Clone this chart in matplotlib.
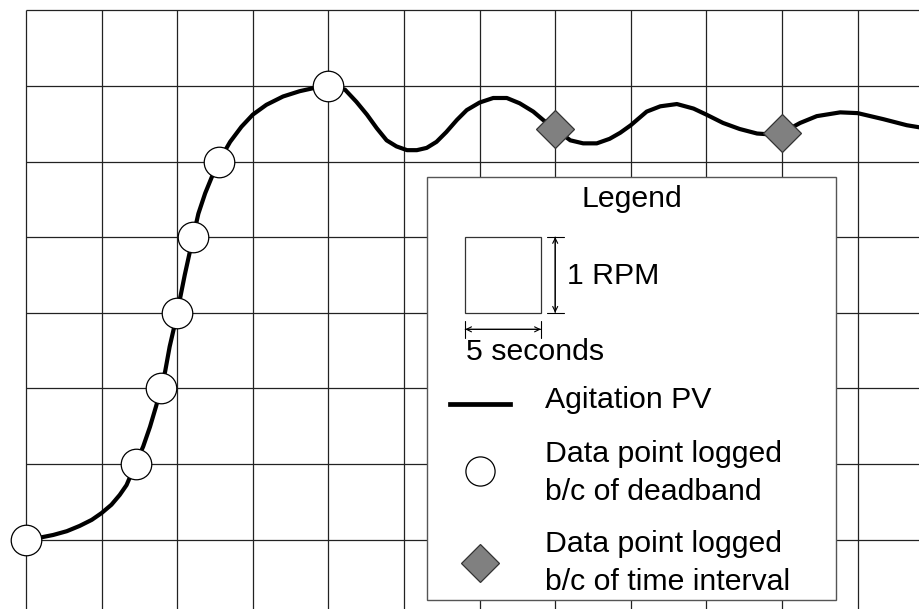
import matplotlib
matplotlib.use("Agg")
import matplotlib.pyplot as plt
from matplotlib.patches import Rectangle

plt.rcParams["font.family"] = ["Liberation Sans", "DejaVu Sans"]

# Agitation PV trace (x: 5 s per grid cell, y: 1 RPM per cell)
pv_x = [0, 0.21, 0.36, 0.54, 0.71, 0.87, 1.0, 1.13, 1.24, 1.33, 1.45, 1.55,
        1.64, 1.72, 1.786, 1.84, 1.90, 1.96, 2.0, 2.10, 2.21, 2.28, 2.37,
        2.46, 2.55, 2.70, 2.85, 3.0, 3.18, 3.40, 3.62, 3.80, 4.0, 4.22, 4.37,
        4.51, 4.64, 4.77, 4.90, 5.04, 5.17, 5.30, 5.43, 5.56, 5.70, 5.83, 6.0,
        6.18, 6.36, 6.53, 6.71, 6.84, 7.0, 7.20, 7.37, 7.55, 7.72, 7.86, 8.0,
        8.21, 8.39, 8.61, 8.83, 9.0, 9.22, 9.44, 9.67, 9.82, 10.0, 10.24,
        10.46, 10.77, 11.0, 11.34, 11.65, 11.83]
pv_y = [0, 0.03, 0.06, 0.11, 0.18, 0.26, 0.35, 0.46, 0.59, 0.72, 1.0, 1.23,
        1.49, 1.76, 2.0, 2.22, 2.55, 2.81, 3.0, 3.50, 4.0, 4.31, 4.58, 4.80,
        5.0, 5.26, 5.46, 5.62, 5.75, 5.86, 5.93, 5.97, 6.0, 5.95, 5.79, 5.62,
        5.44, 5.28, 5.20, 5.15, 5.15, 5.18, 5.26, 5.39, 5.55, 5.68, 5.78,
        5.84, 5.84, 5.77, 5.66, 5.55, 5.43, 5.28, 5.24, 5.24, 5.30, 5.38,
        5.48, 5.66, 5.73, 5.76, 5.70, 5.62, 5.51, 5.43, 5.37, 5.36, 5.38,
        5.51, 5.60, 5.65, 5.64, 5.56, 5.48, 5.45]

# points logged because of deadband
dead_x = [0, 1.45, 1.786, 2.0, 2.21, 2.55, 4.0]
dead_y = [0, 1, 2, 3, 4, 5, 6]

# points logged because of time interval
time_x = [7.0, 10.0]
time_y = [5.43, 5.38]

grid_x = list(range(0, 12))
grid_y = list(range(0, 8))

fig = plt.figure(figsize=(9.2, 6.09), dpi=100)
ax = fig.add_axes([0, 0, 1, 1])
u = 75.6
ax.set_xlim(-26 / u, (920 - 26) / u)
ax.set_ylim((539.5 - 609) / u, 539.5 / u)
ax.axis("off")

gc = "#222222"
ax.vlines(grid_x, ax.get_ylim()[0], 7, color=gc, lw=0.9, zorder=1)
ax.hlines(grid_y, 0, ax.get_xlim()[1], color=gc, lw=0.9, zorder=1)

ax.plot(pv_x, pv_y, color="black", lw=3.0, solid_capstyle="round",
        solid_joinstyle="round", zorder=3)
ax.plot(dead_x, dead_y, ls="none", marker="o", ms=22, mfc="white",
        mec="black", mew=0.9, zorder=4)
ax.plot(time_x, time_y, ls="none", marker="D", ms=19, mfc="#808080",
        mec="#333333", mew=0.9, zorder=4)

# legend box
ax.add_patch(Rectangle((5.31, -0.80), 5.40, 5.59, facecolor="white",
                       edgecolor="#555555", lw=1.0, zorder=5))
fs = 21.8
ax.text(8.01, 4.51, "Legend", ha="center", va="center", fontsize=fs, zorder=6)

ax.add_patch(Rectangle((5.81, 3.0), 1.0, 1.0, facecolor="white",
                       edgecolor="#333333", lw=0.9, zorder=6))
arw = dict(arrowstyle="<->", lw=0.8, mutation_scale=9, shrinkA=0, shrinkB=0,
           color="black")
bar = dict(arrowstyle="|-|, widthA=0.3, widthB=0.3", lw=0.8, mutation_scale=20,
           shrinkA=0, shrinkB=0, color="black")
ax.annotate("", xy=(7.0, 4.0), xytext=(7.0, 3.0), arrowprops=arw, zorder=6)
ax.annotate("", xy=(7.0, 4.0), xytext=(7.0, 3.0), arrowprops=bar, zorder=6)
ax.annotate("", xy=(6.81, 2.78), xytext=(5.81, 2.78), arrowprops=arw, zorder=6)
ax.annotate("", xy=(6.81, 2.78), xytext=(5.81, 2.78), arrowprops=bar, zorder=6)
ax.text(7.15, 3.49, "1 RPM", ha="left", va="center", fontsize=fs, zorder=6)
ax.text(5.82, 2.48, "5 seconds", ha="left", va="center", fontsize=fs, zorder=6)

ax.plot([5.61, 6.40], [1.79, 1.79], color="black", lw=3.4, zorder=6)
ax.text(6.86, 1.84, "Agitation PV", ha="left", va="center", fontsize=fs, zorder=6)

ax.plot([6.0], [0.90], ls="none", marker="o", ms=21, mfc="white",
        mec="black", mew=0.9, zorder=6)
ax.text(6.86, 0.885, "Data point logged\nb/c of deadband", ha="left",
        va="center", fontsize=fs, linespacing=1.45, zorder=6)

ax.plot([6.0], [-0.31], ls="none", marker="D", ms=19, mfc="#808080",
        mec="#333333", mew=0.9, zorder=6)
ax.text(6.86, -0.315, "Data point logged\nb/c of time interval", ha="left",
        va="center", fontsize=fs, linespacing=1.45, zorder=6)

fig.savefig("out.png", dpi=100)
